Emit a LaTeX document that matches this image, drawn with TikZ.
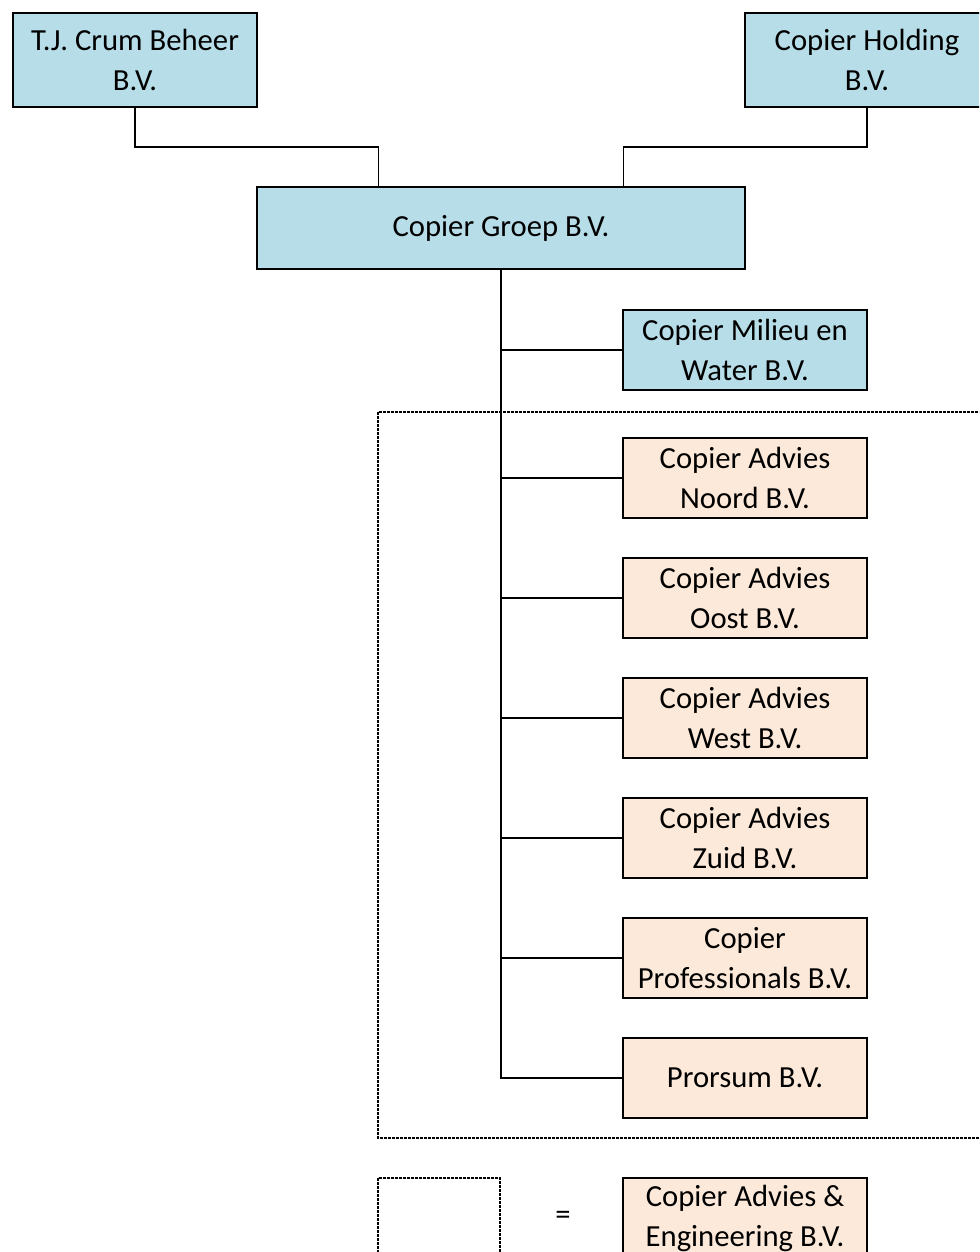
\documentclass[tikz,border=0pt]{standalone}
\usepackage{fontspec}
\setmainfont{Carlito}
\usetikzlibrary{calc}
\definecolor{bvblue}{RGB}{183,221,232}
\definecolor{bvorange}{RGB}{253,233,217}
\tikzset{
  company/.style={draw, line width=1.2pt, minimum width=183pt, minimum height=60pt,
    align=center, inner sep=0pt, font=\fontsize{23}{30}\selectfont},
  parent/.style={company, fill=bvblue},
  advies/.style={company, fill=bvorange},
  link/.style={line width=1.2pt},
  groupbox/.style={draw, line width=0.8pt, dash pattern=on 2pt off 1pt}
}
\begin{document}
\begin{tikzpicture}[x=0.75pt,y=-0.75pt]
\useasboundingbox (0,0) rectangle (979,1252);
\clip (0,0) rectangle (979,1252);

% shareholders
\node[parent, minimum height=70.5pt] (tj) at (135,60) {T.J. Crum Beheer\\B.V.};
\node[parent, minimum height=70.5pt] (holding) at (867,60) {Copier Holding\\B.V.};
\node[parent, minimum width=366pt, minimum height=61.5pt] (groep) at (501,228) {Copier Groep B.V.};

% dochters
\node[parent] (milieu) at (745,350) {Copier Milieu en\\Water B.V.};
\node[advies] (noord) at (745,478) {Copier Advies\\Noord B.V.};
\node[advies] (oost) at (745,598) {Copier Advies\\Oost B.V.};
\node[advies] (west) at (745,718) {Copier Advies\\West B.V.};
\node[advies] (zuid) at (745,838) {Copier Advies\\Zuid B.V.};
\node[advies] (prof) at (745,958) {Copier\\Professionals B.V.};
\node[advies] (prorsum) at (745,1078) {Prorsum B.V.};

% Copier Advies & Engineering
\draw[groupbox] (378,412) rectangle (1000,1138);

% legenda
\draw[groupbox] (378,1178) rectangle (500,1270);
\node[font=\fontsize{23}{30}\selectfont] (is) at (563,1218) {=};
\node[advies] (cae) at (745,1218) {Copier Advies \&\\Engineering B.V.};

\coordinate (gl) at ($(groep.north west)!0.5!(groep.north)$);
\coordinate (gr) at ($(groep.north east)!0.5!(groep.north)$);
\draw[link] (tj.south) |- ($(tj.south)!0.5!(gl)$) -| (gl);
\draw[link] (holding.south) |- ($(holding.south)!0.5!(gr)$) -| (gr);

\draw[link] (groep.south) |- (prorsum.west);
\foreach \d in {milieu,noord,oost,west,zuid,prof}
  \draw[link] (groep.south |- \d.west) -- (\d.west);
\end{tikzpicture}
\end{document}
